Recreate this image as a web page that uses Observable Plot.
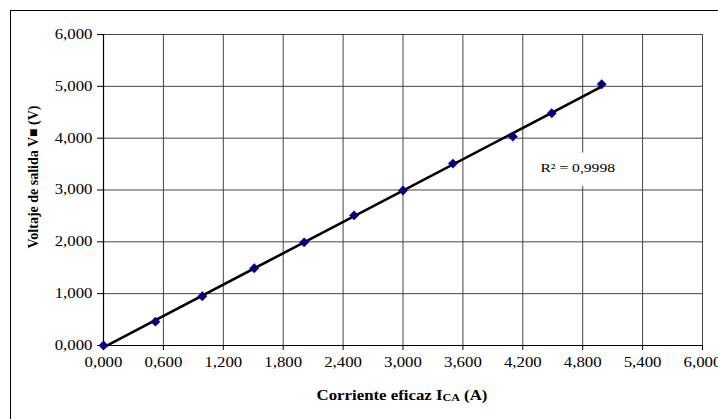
<!DOCTYPE html>
<html><head><meta charset="utf-8">
<script src="https://cdn.jsdelivr.net/npm/d3@7"></script>
<script src="https://cdn.jsdelivr.net/npm/@observablehq/plot@0.6"></script>
<style>
body{margin:0;background:#fff;}
#wrap{position:relative;width:718px;height:419px;overflow:hidden;}
#border{position:absolute;left:10px;top:10px;width:720px;height:430px;border-left:1.5px solid #000;border-top:1.5px solid #000;pointer-events:none;}
</style></head>
<body><div id="wrap"><div id="border"></div></div>
<script>
const corriente = [0, 0.52, 0.99, 1.51, 2.01, 2.51, 3.00, 3.50, 4.10, 4.49, 4.99];
const voltaje   = [0, 0.46, 0.95, 1.49, 1.99, 2.51, 2.99, 3.51, 4.03, 4.48, 5.04];
const xTicks = [0, 0.6, 1.2, 1.8, 2.4, 3.0, 3.6, 4.2, 4.8, 5.4, 6.0];
const yTicks = [0, 1, 2, 3, 4, 5, 6];
const r2Text = ["R\u00B2 = 0,9998"];
const r2Pos = {x: 4.75, y: 3.42};
const xTitle = ["Corriente eficaz I", "CA", " (A)"];
const yTitle = "Voltaje de salida V\u25A0 (V)";

const data = corriente.map((c, i) => ({x: c, y: voltaje[i]}));
const loc = d3.formatLocale({decimal: ",", thousands: ".", grouping: [3], currency: ["", ""]});
const fmt = loc.format(".3f");
const font = "'Liberation Serif','Times New Roman',serif";

const chart = Plot.plot({
  width: 718, height: 419,
  marginLeft: 103, marginRight: 16, marginTop: 34, marginBottom: 74,
  style: {fontFamily: font, fontSize: "14px", color: "#000", background: "transparent", overflow: "visible"},
  x: {domain: [0, 6]},
  y: {domain: [0, 6]},
  marks: [
    Plot.gridX(xTicks, {stroke: "#444", strokeOpacity: 1, strokeWidth: 1}),
    Plot.gridY(yTicks, {stroke: "#444", strokeOpacity: 1, strokeWidth: 1}),
    Plot.axisX(xTicks, {tickFormat: fmt, tickSize: 5, tickPadding: 7, label: null, fontSize: 14}),
    Plot.axisY(yTicks, {tickFormat: fmt, tickSize: 6, tickPadding: 5, label: null, fontSize: 14}),
    Plot.ruleX([0], {stroke: "#000", strokeWidth: 1.2}),
    Plot.ruleY([0], {stroke: "#000", strokeWidth: 1.2}),
    Plot.linearRegressionY(data, {x: "x", y: "y", ci: 0, stroke: "#000", strokeWidth: 2.6}),
    Plot.dot(data, {x: "x", y: "y", symbol: "diamond2", r: 4.2, fill: "#000080", stroke: "#000080", strokeWidth: 0.5}),
    Plot.text(r2Text, {x: () => r2Pos.x, y: () => r2Pos.y, text: d => d, fontSize: 13, fill: "#000", stroke: "#fff", strokeWidth: 24, paintOrder: "stroke"})
  ]
});
document.getElementById("wrap").appendChild(chart);
chart.style.position = "absolute";
chart.style.left = "0px";
chart.style.top = "0px";

const svg = d3.select(chart);
const xt = svg.append("text")
  .attr("class", "stretch")
  .attr("x", 402).attr("y", 400)
  .attr("text-anchor", "middle")
  .attr("font-family", font).attr("font-weight", "bold").attr("font-size", 14);
xt.append("tspan").text(xTitle[0]);
xt.append("tspan").attr("font-size", 10).attr("dy", 1).text(xTitle[1]);
xt.append("tspan").attr("dy", -1).text(xTitle[2]);

svg.append("text")
  .attr("transform", "translate(38,177) rotate(-90)")
  .attr("text-anchor", "middle")
  .attr("font-family", font).attr("font-weight", "bold").attr("font-size", 14)
  .text(yTitle);

// widen glyphs horizontally to match the stretched original
const stretch = 1.2;
svg.selectAll("g[aria-label='x-axis tick label'] text, g[aria-label='y-axis tick label'] text, g[aria-label='text'] text, text.stretch")
  .each(function() {
    const len = this.getComputedTextLength();
    if (len > 0) {
      this.setAttribute("textLength", (len * stretch).toFixed(1));
      this.setAttribute("lengthAdjust", "spacingAndGlyphs");
    }
  });
</script>
</body></html>
